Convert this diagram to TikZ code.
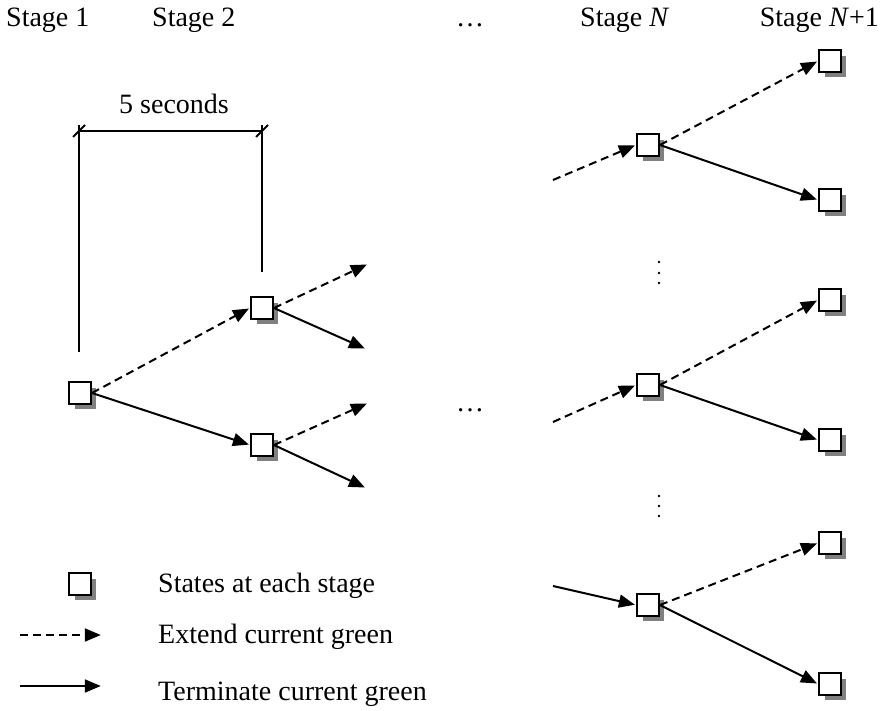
\documentclass[tikz,border=0pt]{standalone}
\usepackage{fontspec}
\setmainfont{Liberation Serif}
\usetikzlibrary{arrows.meta,shadows}

\begin{document}
\begin{tikzpicture}[x=1pt,y=-1pt,
  txt/.style={font=\fontsize{28}{33}\selectfont, inner sep=0pt},
  state/.style={draw, line width=2.4pt, fill=white, minimum size=21.5pt, inner sep=0pt,
    drop shadow={shadow xshift=5.5pt, shadow yshift=-5.5pt, fill=gray, opacity=1}},
  ext/.style={line width=2pt, dash pattern=on 8pt off 5pt, shorten >=1.2pt,
    -{Triangle[length=16pt,width=13pt]}},
  term/.style={line width=2pt, shorten >=1.2pt, -{Triangle[length=16pt,width=13pt]}},
  dimline/.style={line width=2pt},
  vdot/.style={fill=black},
]
\useasboundingbox (0,0) rectangle (881,711);

% stage headings
\node[txt, anchor=base west] (h1) at (6,27) {Stage 1};
\node[txt, anchor=base west] (h2) at (152,27) {Stage 2};
\node[txt, anchor=base] (hdots) at (470,27) {\ldots};
\node[txt, anchor=base west] (hn) at (580,27) {Stage \textit{N}};
\node[txt, anchor=base east] (hn1) at (879,27) {Stage \textit{N}+1};

% states
\node[state] (s1) at (80,393) {};
\node[state] (a2) at (262,308) {};
\node[state] (b2) at (262,445) {};
\node[state] (na) at (648,145) {};
\node[state] (nb) at (648,385) {};
\node[state] (nc) at (648,605) {};
\node[state] (m1) at (830,61) {};
\node[state] (m2) at (830,200) {};
\node[state] (m3) at (830,300) {};
\node[state] (m4) at (830,440) {};
\node[state] (m5) at (830,543) {};
\node[state] (m6) at (830,684) {};

% open ends of the stage-2 branches and the stage-N feeds
\coordinate (a2u) at (368,264);
\coordinate (a2d) at (366,349);
\coordinate (b2u) at (368,403);
\coordinate (b2d) at (366,488);
\coordinate (ina) at (553,180);
\coordinate (inb) at (553,422);
\coordinate (inc) at (553,586);

% transitions
\draw[ext]  (s1.east) -- (a2.west);
\draw[term] (s1.east) -- (b2.west);
\draw[ext]  (a2.east) -- (a2u);
\draw[term] (a2.east) -- (a2d);
\draw[ext]  (b2.east) -- (b2u);
\draw[term] (b2.east) -- (b2d);

\draw[ext]  (ina) -- (na.west);
\draw[ext]  (inb) -- (nb.west);
\draw[term] (inc) -- (nc.west);
\draw[ext]  (na.east) -- (m1.west);
\draw[term] (na.east) -- (m2.west);
\draw[ext]  (nb.east) -- (m3.west);
\draw[term] (nb.east) -- (m4.west);
\draw[ext]  (nc.east) -- (m5.west);
\draw[term] (nc.east) -- (m6.west);

% interval dimension
\coordinate (dl) at (79,131);
\coordinate (dr) at (262,131);
\coordinate (dlt) at (79,125);
\coordinate (dlb) at (79,352);
\coordinate (drt) at (262,125);
\coordinate (drb) at (262,272);
\draw[dimline] (dlt) -- (dlb);
\draw[dimline] (drt) -- (drb);
\draw[dimline] (dl) -- (dr);
\draw[dimline] (dl) ++(-6,6) -- ++(12,-12);
\draw[dimline] (dr) ++(-6,6) -- ++(12,-12);
\node[txt, anchor=base] (secs) at (174,114) {5 seconds};

% ellipses
\node[txt, anchor=base] (mdots) at (470,411) {\ldots};
\foreach \y in {262,273,283,496,506,516}
  \fill[vdot] (659,\y) circle (1.4pt);

% legend
\node[state] (leg) at (80,584) {};
\coordinate (le1) at (20,635);
\coordinate (le2) at (102,635);
\coordinate (lt1) at (20,686);
\coordinate (lt2) at (102,686);
\draw[ext]  (le1) -- (le2);
\draw[term] (lt1) -- (lt2);
\node[txt, anchor=base west] (l1) at (158,592) {States at each stage};
\node[txt, anchor=base west] (l2) at (158,643) {Extend current green};
\node[txt, anchor=base west] (l3) at (158,700) {Terminate current green};
\end{tikzpicture}
\end{document}
